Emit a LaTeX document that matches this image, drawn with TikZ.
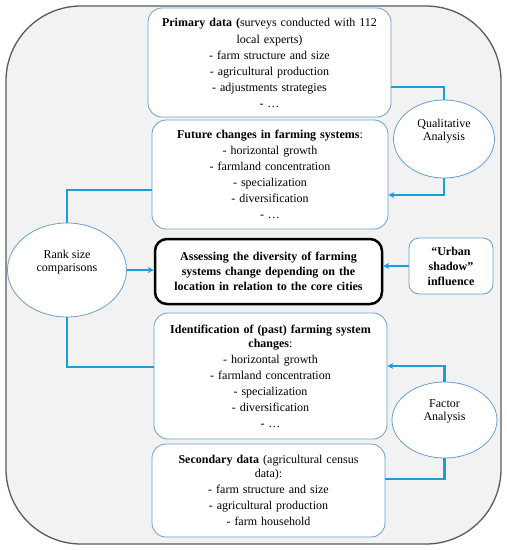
\documentclass[tikz,border=0pt]{standalone}
\usepackage{fontspec}
\setmainfont{Liberation Serif}
\usetikzlibrary{arrows.meta, positioning, shapes.geometric, calc}
\definecolor{panelgray}{HTML}{F2F2F2}
\definecolor{rimgray}{HTML}{5A5A5A}
\definecolor{boxblue}{HTML}{6A9FCB}
\definecolor{linkblue}{HTML}{1C9CDB}

\begin{document}
\begin{tikzpicture}[x=1pt, y=-1pt,
    every node/.style={font=\fontsize{12}{16}\selectfont, align=center},
    databox/.style={draw=boxblue, fill=white, line width=0.8pt, rounded corners=14pt, inner sep=2pt},
    oval/.style={ellipse, draw=boxblue, fill=white, line width=0.8pt, inner sep=0pt},
    link/.style={draw=linkblue, line width=2.6pt},
    arr/.style={link, -{Stealth[length=6pt, width=6pt]}}]
  \useasboundingbox (0,0) rectangle (507,550);
  \draw[rimgray, fill=panelgray, line width=1.3pt, rounded corners=75pt] (6,6) rectangle (501,544);
  \node[databox, minimum width=243pt, minimum height=109pt, text width=225pt] (prim) at (269.5,62.5)
    {\textbf{Primary data (}surveys conducted with 112\\[1pt] local experts)\\ - farm structure and size\\ - agricultural production\\ - adjustments strategies\\ - \dots};
  \node[databox, minimum width=236pt, minimum height=109pt, text width=225pt] (future) at (270,174.5)
    {\textbf{Future changes in farming systems}:\\ - horizontal growth\\ - farmland concentration\\ - specialization\\ - diversification\\ - \dots};
  \node[draw=black, fill=white, line width=2.5pt, rounded corners=12pt, minimum width=227pt, minimum height=65pt, text width=215pt,
    font=\fontsize{12}{15}\selectfont\bfseries] (core) at (268.5,271.5)
    {Assessing the diversity of farming systems change depending on the location in relation to the core cities};
  \node[databox, rounded corners=10pt, minimum width=84pt, minimum height=56pt, font=\fontsize{12}{15}\selectfont\bfseries] (urban) at (451,266)
    {``Urban\\ shadow''\\ influence};
  \node[databox, minimum width=233pt, minimum height=126pt, text width=225pt] (ident) at (270.5,376)
    {\textbf{Identification of (past) farming system}\\[-2pt] \textbf{changes}:\\ - horizontal growth\\ - farmland concentration\\ - specialization\\ - diversification\\ - \dots};
  \node[databox, minimum width=233pt, minimum height=93pt, text width=225pt] (second) at (268.5,490.5)
    {\textbf{Secondary data} (agricultural census\\[-2pt] data):\\ - farm structure and size\\ - agricultural production\\ - farm household};
  \node[oval, minimum width=101pt, minimum height=78pt] (qual) at (444,139) {Qualitative\\[-3pt] Analysis\\[2pt]};
  \node[oval, minimum width=119pt, minimum height=94pt] (rank) at (67,270) {Rank size\\[-3pt] comparisons\\[2pt]};
  \node[oval, minimum width=105pt, minimum height=76pt] (factor) at (444.5,420) {Factor\\[-3pt] Analysis\\[4pt]};
  \draw[link] ([yshift=-24.5pt]prim.east) -| (qual.north);
  \draw[arr] (qual.south) |- ([yshift=-20.5pt]future.east);
  \draw[link] (rank.north) |- ([yshift=-15.5pt]future.west);
  \draw[arr] (rank.east) -- (rank.east -| core.west);
  \draw[arr] (urban.west) -- (urban.west -| core.east);
  \draw[link] (rank.south) |- ([yshift=9pt]ident.west);
  \draw[arr] (factor.north) |- ([yshift=10pt]ident.east);
  \draw[link] ([yshift=11.5pt]second.east) -| (factor.south);
\end{tikzpicture}
\end{document}
